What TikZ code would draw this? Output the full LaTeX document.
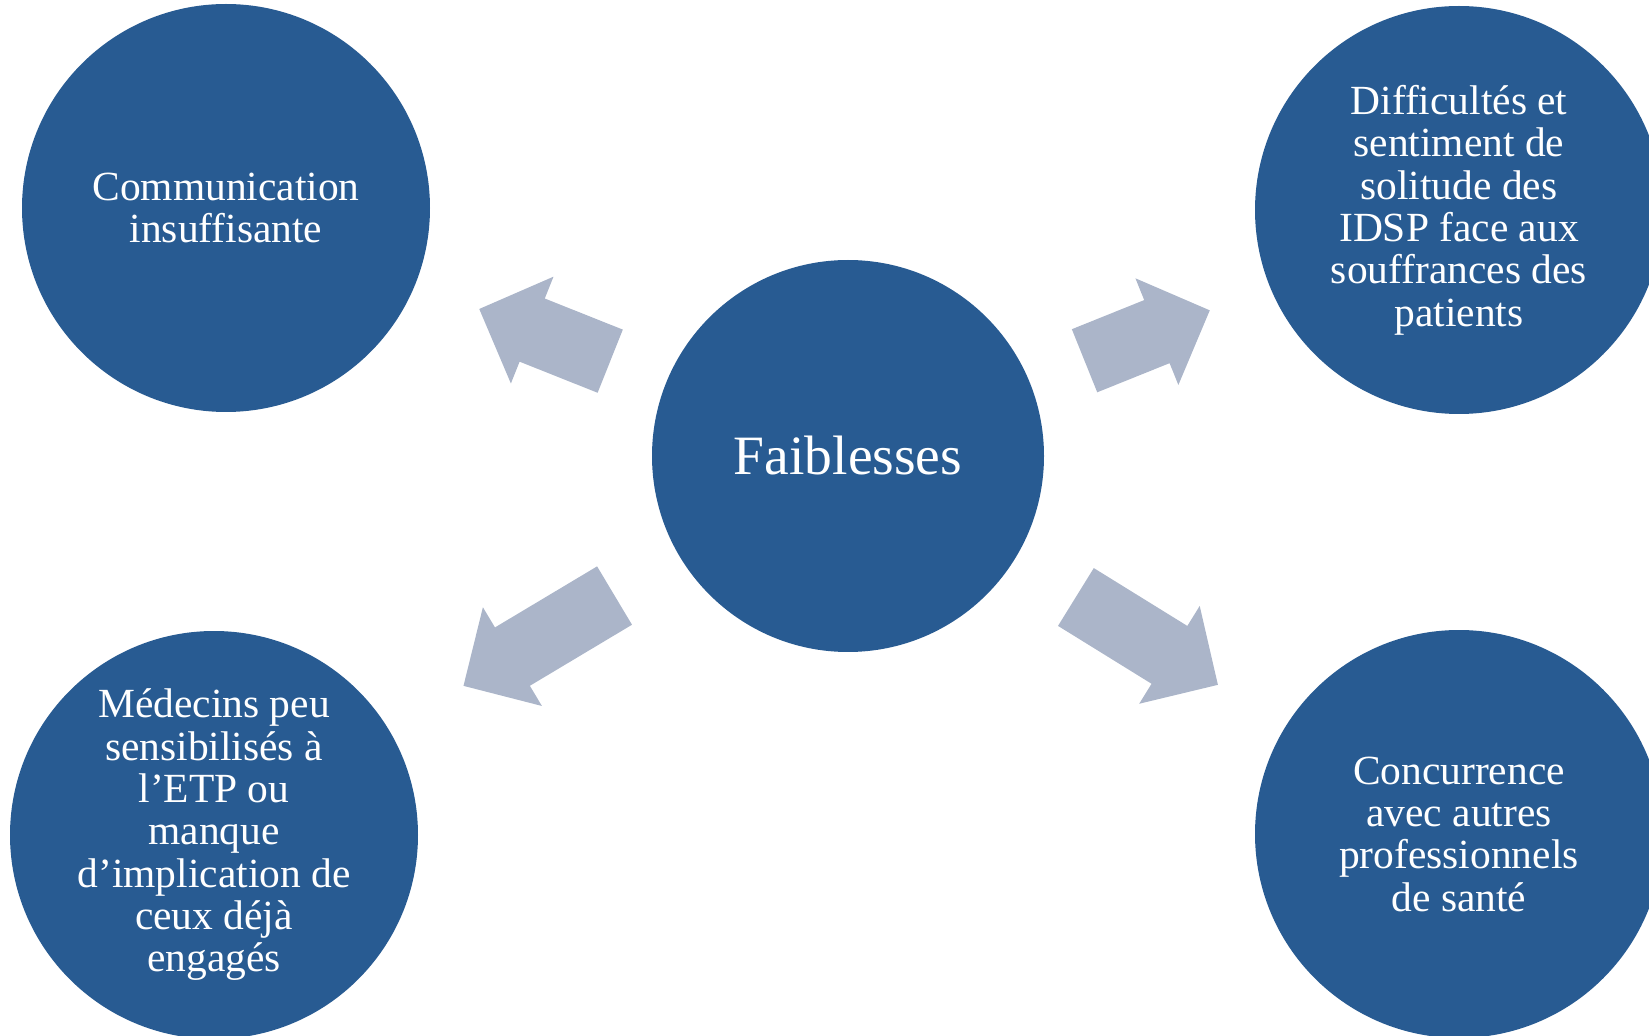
\documentclass[tikz,border=0pt]{standalone}
\usepackage{fontspec}
\setmainfont{Liberation Serif}
\usetikzlibrary{calc}
\definecolor{circblue}{RGB}{40,91,146}
\definecolor{arrowgray}{RGB}{171,181,201}
\tikzset{
  bubble/.style={circle, fill=circblue, draw=none, text=white, inner sep=0pt,
    minimum size=40.8mm, align=center, font=\fontsize{11.8}{12.05}\selectfont},
  hub/.style={bubble, minimum size=39.2mm, font=\fontsize{15.8}{18}\selectfont},
  arrowfill/.style={fill=arrowgray, draw=none}
}
% #1 target node, #2 distance of arrow back from hub centre, #3 arrow length (px units)
\newcommand\fatarrow[3]{%
  \path let \p1=($(#1)-(c)$), \n1={atan2(\y1,\x1)} in
    coordinate (arrback) at ($(c)!#2!(#1)$) \pgfextra{\xdef\arrangle{\n1}};
  \fill[arrowfill, shift={(arrback)}, rotate=\arrangle]
    (0,-34) -- ({#3-57},-34) -- ({#3-57},-57.5) -- (#3,0)
    -- ({#3-57},57.5) -- ({#3-57},34) -- (0,34) -- cycle;
}
\begin{document}
\begin{tikzpicture}[x=0.1mm,y=-0.1mm]
\useasboundingbox (0,0) rectangle (1649,1036);
\clip (0,0) rectangle (1649,1036);
\node[hub] (c) at (848,456) {Faiblesses};
\node[bubble] (tl) at (226,208) {Communication\\insuffisante};
\node[bubble] (tr) at (1459,210) {Difficultés et\\sentiment de\\solitude des\\IDSP face aux\\souffrances des\\patients};
\node[bubble] (bl) at (214,835) {Médecins peu\\sensibilisés à\\l’ETP ou\\manque\\d’implication de\\ceux déjà\\engagés};
\node[bubble] (br) at (1459,834) {Concurrence\\avec autres\\professionnels\\de santé};
\fatarrow{tl}{25.6mm}{141}
\fatarrow{tr}{25.5mm}{135}
\fatarrow{bl}{27.2mm}{176}
\fatarrow{br}{26.8mm}{167}
\end{tikzpicture}
\end{document}
